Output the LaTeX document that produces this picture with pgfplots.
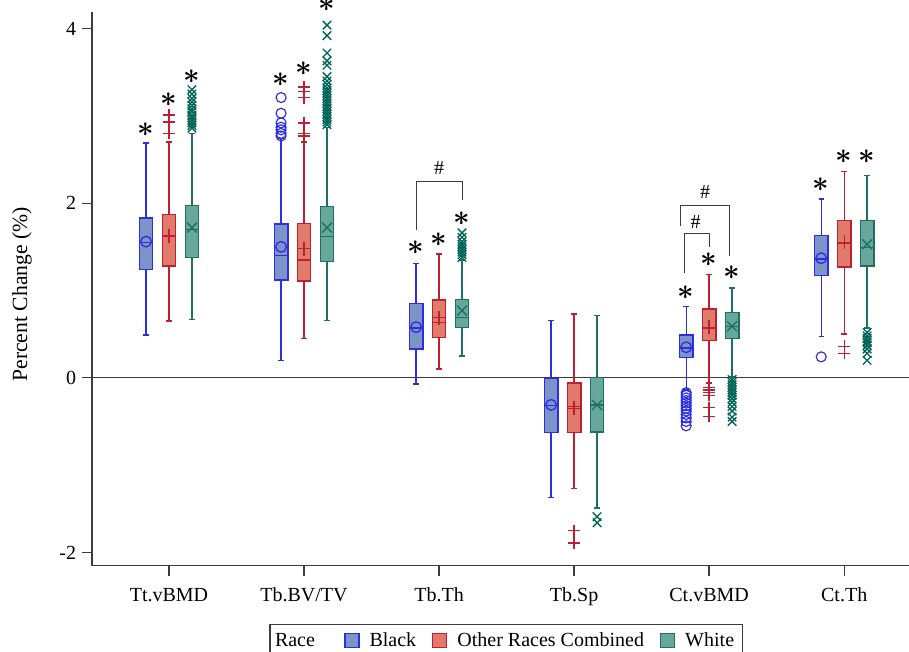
\documentclass[border=0pt]{standalone}
\usepackage{fontspec}
\setmainfont{Liberation Serif}
\usepackage{pgfplots}
\pgfplotsset{compat=1.18}
\usepgfplotslibrary{statistics}
\definecolor{bEdge}{RGB}{45,45,225}
\definecolor{bFill}{RGB}{124,148,200}
\definecolor{oEdge}{RGB}{192,30,50}
\definecolor{oFill}{RGB}{224,122,106}
\definecolor{wEdge}{RGB}{30,112,100}
\definecolor{wFill}{RGB}{104,168,156}
\definecolor{wOut}{RGB}{0,100,86}
\definecolor{axgray}{RGB}{60,60,60}

\pgfplotsset{
  bx/.style={solid, line width=0.8pt, forget plot,
    boxplot/draw direction=y,
    boxplot/box extend=0.1, boxplot/whisker extend=0.04},
}
\tikzset{sg/.style={inner sep=0pt, font=\LARGE\boldmath}}

\begin{document}
\begin{tikzpicture}
\begin{axis}[
  scale only axis, width=490pt, height=332pt,
  xmin=-0.57, xmax=5.48, ymin=-2.15, ymax=4.19,
  axis x line*=bottom, axis y line*=left,
  axis line style={-, axgray, line width=0.8pt},
  xtick={0,1,2,3,4,5},
  xticklabels={Tt.vBMD,Tb.BV/TV,Tb.Th,Tb.Sp,Ct.vBMD,Ct.Th},
  ytick={-2,0,2,4},
  tick align=outside, major tick length=6pt,
  tick style={axgray, line width=0.8pt},
  /pgf/number format/assume math mode=true,
  tick label style={font=\fontsize{12pt}{14pt}\selectfont},
  xticklabel style={yshift=-4pt},
  ylabel={Percent Change (\%)},
  every axis y label/.style={at={(axis description cs:-0.0857,0.49)}, rotate=90,
    anchor=center, font=\fontsize{13pt}{15pt}\selectfont},
  clip=false,
  legend style={at={(axis description cs:0.507,0)}, anchor=north,
    yshift=-34.8pt, draw=axgray, line width=0.8pt, inner sep=3pt,
    legend columns=4, font=\large,
    /tikz/every odd column/.append style={column sep=4pt},
    /tikz/every even column/.append style={column sep=7.5pt}},
  legend cell align=left,
  legend image code/.code={\draw[#1, line width=0.8pt] (0pt,-4.2pt) rectangle (8.4pt,4.2pt);},
]
\addlegendimage{empty legend}\addlegendentry{\hspace{-6pt}Race\hspace{8pt}\null}
\addlegendimage{draw=bEdge, fill=bFill}\addlegendentry{Black}
\addlegendimage{draw=oEdge, fill=oFill}\addlegendentry{Other Races Combined}
\addlegendimage{draw=wEdge, fill=wFill}\addlegendentry{White}

\draw[axgray, line width=0.8pt] (axis cs:-0.57,0) -- (axis cs:5.48,0);

% Black
\addplot[bx, draw=bEdge, fill=bFill, boxplot prepared={draw position=-0.17,
  lower whisker=0.49, lower quartile=1.24, median=1.55, upper quartile=1.83, upper whisker=2.69}] coordinates {};
\addplot[bx, draw=bEdge, fill=bFill, boxplot prepared={draw position=0.83,
  lower whisker=0.20, lower quartile=1.12, median=1.40, upper quartile=1.76, upper whisker=2.74}] coordinates {};
\addplot[bx, draw=bEdge, fill=bFill, boxplot prepared={draw position=1.83,
  lower whisker=-0.07, lower quartile=0.33, median=0.57, upper quartile=0.85, upper whisker=1.31}] coordinates {};
\addplot[bx, draw=bEdge, fill=bFill, boxplot prepared={draw position=2.83,
  lower whisker=-1.37, lower quartile=-0.63, median=-0.32, upper quartile=-0.01, upper whisker=0.66}] coordinates {};
\addplot[bx, draw=bEdge, fill=bFill, boxplot prepared={draw position=3.83,
  lower whisker=-0.14, lower quartile=0.23, median=0.34, upper quartile=0.49, upper whisker=0.82}] coordinates {};
\addplot[bx, draw=bEdge, fill=bFill, boxplot prepared={draw position=4.83,
  lower whisker=0.47, lower quartile=1.17, median=1.36, upper quartile=1.63, upper whisker=2.05}] coordinates {};
% Other Races Combined
\addplot[bx, draw=oEdge, fill=oFill, boxplot prepared={draw position=0,
  lower whisker=0.65, lower quartile=1.28, median=1.62, upper quartile=1.87, upper whisker=2.70}] coordinates {};
\addplot[bx, draw=oEdge, fill=oFill, boxplot prepared={draw position=1,
  lower whisker=0.45, lower quartile=1.11, median=1.35, upper quartile=1.77, upper whisker=2.70}] coordinates {};
\addplot[bx, draw=oEdge, fill=oFill, boxplot prepared={draw position=2,
  lower whisker=0.10, lower quartile=0.46, median=0.63, upper quartile=0.89, upper whisker=1.42}] coordinates {};
\addplot[bx, draw=oEdge, fill=oFill, boxplot prepared={draw position=3,
  lower whisker=-1.27, lower quartile=-0.63, median=-0.33, upper quartile=-0.06, upper whisker=0.73}] coordinates {};
\addplot[bx, draw=oEdge, fill=oFill, boxplot prepared={draw position=4,
  lower whisker=-0.06, lower quartile=0.43, median=0.57, upper quartile=0.79, upper whisker=1.18}] coordinates {};
\addplot[bx, draw=oEdge, fill=oFill, boxplot prepared={draw position=5,
  lower whisker=0.50, lower quartile=1.27, median=1.54, upper quartile=1.80, upper whisker=2.36}] coordinates {};
% White
\addplot[bx, draw=wEdge, fill=wFill, boxplot prepared={draw position=0.17,
  lower whisker=0.67, lower quartile=1.38, median=1.70, upper quartile=1.97, upper whisker=2.80}] coordinates {};
\addplot[bx, draw=wEdge, fill=wFill, boxplot prepared={draw position=1.17,
  lower whisker=0.66, lower quartile=1.33, median=1.62, upper quartile=1.96, upper whisker=2.87}] coordinates {};
\addplot[bx, draw=wEdge, fill=wFill, boxplot prepared={draw position=2.17,
  lower whisker=0.25, lower quartile=0.58, median=0.69, upper quartile=0.90, upper whisker=1.35}] coordinates {};
\addplot[bx, draw=wEdge, fill=wFill, boxplot prepared={draw position=3.17,
  lower whisker=-1.49, lower quartile=-0.62, median=-0.31, upper quartile=0.00, upper whisker=0.71}] coordinates {};
\addplot[bx, draw=wEdge, fill=wFill, boxplot prepared={draw position=4.17,
  lower whisker=0.01, lower quartile=0.45, median=0.59, upper quartile=0.75, upper whisker=1.03}] coordinates {};
\addplot[bx, draw=wEdge, fill=wFill, boxplot prepared={draw position=5.17,
  lower whisker=0.57, lower quartile=1.28, median=1.49, upper quartile=1.80, upper whisker=2.32}] coordinates {};

% means
\addplot[forget plot, only marks, mark=o, mark size=3.2pt, bEdge, line width=0.8pt]
  coordinates {(-0.17,1.56) (0.83,1.50) (1.83,0.58) (2.83,-0.31) (3.83,0.35) (4.83,1.37)};
\addplot[forget plot, only marks, mark=+, mark size=4.2pt, oEdge, line width=0.8pt]
  coordinates {(0,1.63) (1,1.48) (2,0.69) (3,-0.35) (4,0.58) (5,1.55)};
\addplot[forget plot, only marks, mark=x, mark size=4.2pt, wEdge, line width=0.8pt]
  coordinates {(0.17,1.72) (1.17,1.72) (2.17,0.77) (3.17,-0.31) (4.17,0.59) (5.17,1.53)};

% outliers
\addplot[forget plot, only marks, mark=o, mark size=3pt, bEdge, line width=0.7pt]
  coordinates {(0.83,3.21) (0.83,3.03) (0.83,2.92) (0.83,2.87) (0.83,2.84) (0.83,2.80) (0.83,2.77)
  (3.83,-0.17) (3.83,-0.20) (3.83,-0.23) (3.83,-0.26) (3.83,-0.29) (3.83,-0.32) (3.83,-0.35)
  (3.83,-0.38) (3.83,-0.42) (3.83,-0.46) (3.83,-0.50) (3.83,-0.55) (4.83,0.24)};
\addplot[forget plot, only marks, mark=+, mark size=3.6pt, oEdge, line width=0.8pt]
  coordinates {(0,3.01) (0,2.93) (0,2.80)
  (1,3.33) (1,3.28) (1,3.21) (1,2.92) (1,2.80) (1,2.77)
  (3,-1.75) (3,-1.89)
  (4,-0.11) (4,-0.14) (4,-0.17) (4,-0.20) (4,-0.34) (4,-0.44)
  (5,0.36) (5,0.28)};
\addplot[forget plot, only marks, mark=x, mark size=3.6pt, wOut, line width=0.8pt]
  coordinates {(0.17,2.86) (0.17,2.89) (0.17,2.92) (0.17,2.95) (0.17,2.98) (0.17,3.01) (0.17,3.05)
  (0.17,3.08) (0.17,3.12) (0.17,3.16) (0.17,3.20) (0.17,3.25) (0.17,3.30)
  (1.17,2.90) (1.17,2.93) (1.17,2.96) (1.17,2.99) (1.17,3.02) (1.17,3.05) (1.17,3.08) (1.17,3.11)
  (1.17,3.14) (1.17,3.17) (1.17,3.20) (1.17,3.23) (1.17,3.26) (1.17,3.29) (1.17,3.32) (1.17,3.36)
  (1.17,3.40) (1.17,3.45) (1.17,3.58) (1.17,3.63) (1.17,3.72) (1.17,3.92) (1.17,4.04)
  (2.17,1.38) (2.17,1.41) (2.17,1.44) (2.17,1.47) (2.17,1.50) (2.17,1.53) (2.17,1.56) (2.17,1.61) (2.17,1.66)
  (3.17,-1.59) (3.17,-1.66)
  (4.17,-0.02) (4.17,-0.05) (4.17,-0.08) (4.17,-0.11) (4.17,-0.14) (4.17,-0.17) (4.17,-0.20)
  (4.17,-0.24) (4.17,-0.28) (4.17,-0.33) (4.17,-0.38) (4.17,-0.45) (4.17,-0.50)
  (5.17,0.52) (5.17,0.48) (5.17,0.45) (5.17,0.42) (5.17,0.40) (5.17,0.37) (5.17,0.33) (5.17,0.28) (5.17,0.20)};

% significance marks
\node[sg] at (axis cs:-0.17,2.84) {$\ast$};
\node[sg] at (axis cs:0,3.18) {$\ast$};
\node[sg] at (axis cs:0.17,3.45) {$\ast$};
\node[sg] at (axis cs:0.83,3.41) {$\ast$};
\node[sg] at (axis cs:1,3.54) {$\ast$};
\node[sg] at (axis cs:1.17,4.27) {$\ast$};
\node[sg] at (axis cs:1.83,1.49) {$\ast$};
\node[sg] at (axis cs:2,1.58) {$\ast$};
\node[sg] at (axis cs:2.17,1.82) {$\ast$};
\node[sg] at (axis cs:3.83,0.98) {$\ast$};
\node[sg] at (axis cs:4,1.35) {$\ast$};
\node[sg] at (axis cs:4.17,1.20) {$\ast$};
\node[sg] at (axis cs:4.83,2.21) {$\ast$};
\node[sg] at (axis cs:5,2.53) {$\ast$};
\node[sg] at (axis cs:5.17,2.53) {$\ast$};

\draw[axgray, line width=0.6pt] (axis cs:1.83,1.69) -- (axis cs:1.83,2.25) -- (axis cs:2.17,2.25) -- (axis cs:2.17,2.04);
\node at (axis cs:2,2.40) {\large\#};
\draw[axgray, line width=0.6pt] (axis cs:3.82,1.20) -- (axis cs:3.82,1.65) -- (axis cs:4.0,1.65) -- (axis cs:4.0,1.50);
\node at (axis cs:3.9,1.79) {\large\#};
\draw[axgray, line width=0.6pt] (axis cs:3.79,1.74) -- (axis cs:3.79,1.97) -- (axis cs:4.15,1.97) -- (axis cs:4.15,1.40);
\node at (axis cs:3.97,2.13) {\large\#};

\coordinate (ll) at (rel axis cs:0,0);
\coordinate (ur) at (rel axis cs:1,1);
\end{axis}
\pgfresetboundingbox
\path[use as bounding box] ([xshift=-55.2pt,yshift=-51.6pt]ll) rectangle ([yshift=7.2pt]ur);
\end{tikzpicture}
\end{document}
